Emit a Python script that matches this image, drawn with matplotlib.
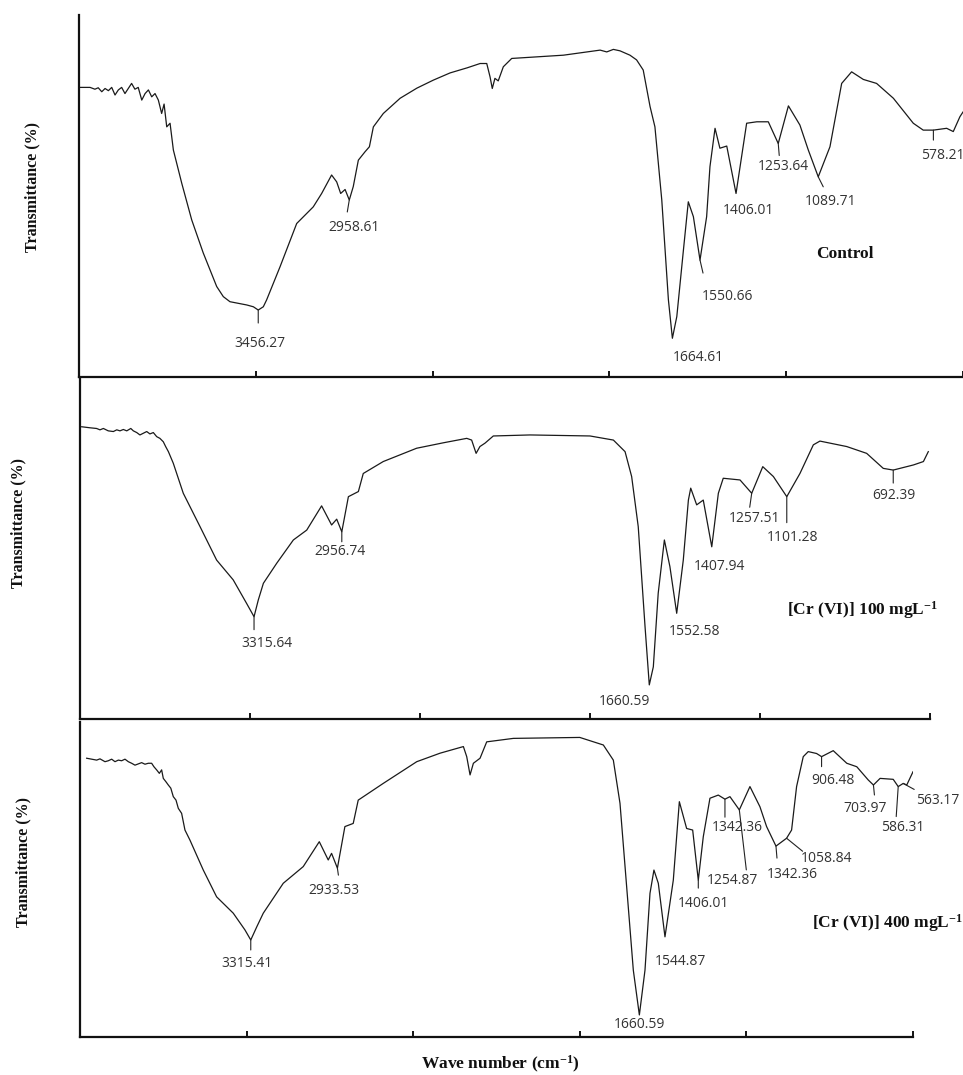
import matplotlib
matplotlib.use("Agg")
import matplotlib.pyplot as plt

plt.rcParams['mathtext.fontset'] = 'custom'
plt.rcParams['mathtext.rm'] = 'Liberation Serif:bold'
plt.rcParams['mathtext.bf'] = 'Liberation Serif:bold'
plt.rcParams['mathtext.default'] = 'rm'

# spectra (wave number, transmittance %)
wn_control = [4400, 4395, 4350, 4328, 4313, 4297, 4282, 4267, 4252, 4237, 4222, 4207, 4192, 4177,
              4162, 4147, 4132, 4116, 4101, 4086, 4071, 4056, 4041, 4026, 4015, 4003, 3988, 3973,
              3935, 3890, 3838, 3777, 3747, 3717, 3641, 3611, 3589, 3566, 3551, 3490, 3415, 3340,
              3302, 3257, 3234, 3216, 3196, 3177, 3159, 3136, 3106, 3086, 3068, 3023, 2947, 2871,
              2797, 2721, 2644, 2585, 2555, 2540, 2530, 2518, 2503, 2480, 2442, 2208, 2042, 2012,
              1982, 1952, 1907, 1877, 1847, 1816, 1794, 1763, 1733, 1715, 1695, 1665, 1643, 1620,
              1590, 1560, 1545, 1522, 1500, 1469, 1427, 1379, 1333, 1281, 1236, 1190, 1138, 1100,
              1055, 1002, 949, 904, 851, 791, 715, 625, 580, 534, 474, 444, 414, 400]
t_control = [80.0, 80.0, 80.0, 79.5, 79.9, 78.8, 79.7, 79.1, 80.0, 77.9, 79.3, 80.0, 78.3, 79.7,
             81.1, 79.5, 80.0, 76.5, 78.3, 79.3, 77.4, 78.3, 76.5, 72.8, 75.4, 69.1, 70.1, 62.7,
             53.5, 43.4, 34.3, 25.0, 22.2, 20.8, 19.9, 19.4, 18.5, 19.4, 21.3, 30.5, 42.4, 47.0,
             50.7, 55.8, 53.9, 50.7, 51.8, 48.9, 52.6, 59.9, 62.2, 63.6, 69.1, 72.8, 77.0, 79.8,
             82.0, 84.0, 85.4, 86.6, 86.6, 82.9, 79.7, 82.5, 81.8, 85.7, 88.0, 88.9, 90.3, 89.8,
             90.5, 90.1, 88.9, 87.6, 84.8, 74.7, 69.1, 48.9, 21.3, 10.7, 16.7, 35.1, 48.4, 44.3,
             32.3, 44.3, 58.1, 68.7, 63.2, 63.8, 50.7, 70.1, 70.5, 70.5, 64.5, 74.9, 69.6, 62.7,
             55.3, 63.6, 81.1, 84.3, 82.2, 81.1, 77.0, 70.1, 68.2, 68.2, 68.7, 67.8, 71.9, 73.2]

wn_cr100 = [4392, 4353, 4322, 4306, 4290, 4267, 4243, 4227, 4212, 4196, 4180, 4161, 4149, 4133,
            4118, 4102, 4086, 4071, 4055, 4039, 4024, 4008, 3997, 3984, 3961, 3914, 3835, 3757,
            3679, 3616, 3581, 3561, 3537, 3474, 3396, 3333, 3263, 3216, 3192, 3168, 3137, 3090,
            3067, 2973, 2816, 2690, 2580, 2557, 2536, 2518, 2494, 2455, 2282, 2000, 1890, 1835,
            1804, 1773, 1741, 1721, 1702, 1679, 1650, 1624, 1592, 1561, 1537, 1526, 1498, 1467,
            1427, 1396, 1373, 1294, 1239, 1187, 1137, 1074, 1012, 949, 918, 792, 698, 620, 573,
            478, 431, 408]
t_cr100 = [85.7, 85.4, 85.2, 84.8, 85.2, 84.5, 84.3, 84.8, 84.5, 84.9, 84.5, 85.2, 84.5, 84.0,
           83.3, 83.8, 84.3, 83.6, 84.0, 82.8, 82.3, 81.3, 79.9, 78.4, 75.0, 66.2, 56.4, 46.6,
           40.8, 33.9, 30.0, 34.9, 39.8, 45.7, 52.5, 55.4, 62.5, 56.9, 58.6, 54.9, 65.2, 66.7,
           72.0, 75.5, 79.4, 81.0, 82.3, 81.8, 77.9, 79.9, 80.9, 83.0, 83.3, 83.0, 81.8, 78.4,
           71.1, 56.4, 27.1, 10.0, 15.3, 36.9, 52.5, 44.7, 31.0, 46.6, 64.2, 67.7, 62.8, 64.2,
           50.5, 66.2, 70.6, 70.1, 66.2, 74.0, 71.1, 65.2, 72.0, 80.4, 81.5, 79.9, 77.9, 73.5,
           73.0, 74.5, 75.5, 78.4]

wn_cr400 = [4368, 4344, 4320, 4304, 4280, 4264, 4248, 4232, 4216, 4200, 4184, 4168, 4152, 4136,
            4120, 4104, 4088, 4072, 4056, 4045, 4032, 4019, 4008, 4000, 3987, 3976, 3964, 3952,
            3939, 3928, 3912, 3896, 3872, 3808, 3744, 3664, 3608, 3580, 3551, 3520, 3424, 3328,
            3251, 3208, 3192, 3164, 3128, 3088, 3064, 2944, 2783, 2671, 2559, 2543, 2527, 2511,
            2479, 2447, 2319, 2000, 1887, 1839, 1807, 1775, 1743, 1714, 1687, 1663, 1644, 1623,
            1591, 1551, 1522, 1487, 1458, 1431, 1407, 1375, 1335, 1303, 1279, 1234, 1183, 1135,
            1103, 1058, 1007, 983, 959, 927, 903, 863, 839, 783, 718, 670, 615, 590, 558, 495,
            471, 447, 430, 400]
t_cr400 = [88.5, 88.2, 87.9, 88.3, 87.4, 87.7, 88.2, 87.4, 87.9, 87.7, 88.2, 87.4, 86.9, 86.3,
           86.7, 87.1, 86.6, 86.9, 86.9, 85.8, 84.8, 83.7, 84.8, 82.1, 81.0, 80.0, 79.0, 76.3,
           75.2, 72.6, 71.0, 65.7, 62.5, 53.0, 44.5, 39.3, 34.0, 30.8, 35.0, 39.3, 48.8, 54.1,
           62.0, 56.2, 58.3, 53.6, 66.8, 67.8, 75.2, 80.5, 87.4, 90.1, 92.2, 89.0, 83.2, 86.9,
           88.5, 93.7, 94.8, 95.1, 92.7, 87.9, 74.2, 47.7, 21.2, 7.0, 21.2, 45.6, 53.0, 48.8,
           31.8, 49.8, 74.7, 66.2, 65.7, 49.8, 63.6, 75.8, 76.8, 75.5, 76.3, 72.1, 79.5, 73.1,
           66.8, 60.6, 63.1, 65.7, 79.5, 89.0, 90.6, 90.0, 89.0, 90.9, 86.9, 85.8, 81.6, 80.0,
           82.1, 81.8, 79.5, 80.5, 80.0, 84.2]

# labelled bands
peaks_control_x = [3589, 3177, 1715, 1590, 1427, 1236, 1055, 534]
peaks_control_y = [18.5, 48.9, 10.7, 32.3, 50.7, 64.5, 55.3, 68.2]
labels_control = ['3456.27', '2958.61', '1664.61', '1550.66', '1406.01', '1253.64', '1089.71', '578.21']

peaks_cr100_x = [3581, 3168, 1721, 1592, 1427, 1239, 1074, 573]
peaks_cr100_y = [30.0, 54.9, 10.0, 31.0, 50.5, 66.2, 65.2, 73.0]
labels_cr100 = ['3315.64', '2956.74', '1660.59', '1552.58', '1407.94', '1257.51', '1101.28', '692.39']

peaks_cr400_x = [3580, 3164, 1714, 1591, 1431, 1303, 1234, 1058, 1007, 839, 590, 471, 447]
peaks_cr400_y = [30.8, 53.6, 7.0, 31.8, 49.8, 75.5, 72.1, 60.6, 63.1, 89.0, 80.0, 79.5, 80.5]
labels_cr400 = ['3315.41', '2933.53', '1660.59', '1544.87', '1406.01', '1342.36', '1254.87',
                '1342.36', '1058.84', '906.48', '703.97', '586.31', '563.17']

names = ['Control', '[Cr (VI)] 100 mgL$^{-1}$', '[Cr (VI)] 400 mgL$^{-1}$']
ticks = [3600, 2800, 2000, 1200, 400]

# layout (pixel offsets of leader line end and label centre)
lines_control = [(0, -13), (-2, -12), None, (3, -13), None, (1, -12), (5, -10), (0, -10)]
text_control = [(2, -33), (5, -28), (26, -19), (27, -36), (12, -17), (5, -23), (12, -25), (9, -25)]
lines_cr100 = [(0, -13), (0, -10), None, None, None, (-2, -14), (0, -26), (0, -13)]
text_cr100 = [(13, -27), (-2, -20), (-25, -17), (18, -18), (8, -20), (3, -25), (6, -41), (1, -25)]
lines_cr400 = [(0, -10), (1, -7), None, None, (0, -8), (0, -18), (7, -60), (1, -12), (16, -13),
               (0, -10), (1, -10), (-2, -30), (11, -6)]
text_cr400 = [(-4, -24), (-3, -22), (0, -10), (15, -25), (5, -23), (12, -28), (-7, -71), (16, -28),
              (40, -20), (11, -24), (-8, -24), (5, -41), (35, -17)]

W, H = 963, 1075
fig = plt.figure(figsize=(W / 100, H / 100), dpi=100)
fig.patch.set_facecolor('white')

# left, bottom, right, top in pixels
boxes = [(79, 377, 963, 15), (80, 719, 930, 378), (80, 1037, 913, 722)]
name_pos = [(0.866, 0.340), (0.921, 0.320), (0.970, 0.362)]
ylab_pos = [(32, 187), (18, 523), (23, 862)]

panels = [
    (wn_control, t_control, peaks_control_x, peaks_control_y, labels_control, lines_control, text_control),
    (wn_cr100, t_cr100, peaks_cr100_x, peaks_cr100_y, labels_cr100, lines_cr100, text_cr100),
    (wn_cr400, t_cr400, peaks_cr400_x, peaks_cr400_y, labels_cr400, lines_cr400, text_cr400),
]

num_font = dict(family='Open Sans', fontsize=10, color='#333333')
serif_bold = dict(family='Liberation Serif', fontweight='bold', color='#111111')

for i, (wn, t, px, py, labs, lns, txt) in enumerate(panels):
    l, b, r, tp = boxes[i]
    ax = fig.add_axes([l / W, 1 - b / H, (r - l) / W, (b - tp) / H])
    ax.plot(wn, t, color='#1a1a1a', lw=0.9)
    ax.set_xlim(4400, 400)
    ax.set_ylim(0, 100)
    ax.set_xticks(ticks)
    ax.set_yticks([])
    ax.tick_params(axis='x', direction='in', length=4, width=1.3, labelbottom=False)
    for s in ['top', 'right']:
        ax.spines[s].set_visible(False)
    for s in ['left', 'bottom']:
        ax.spines[s].set_linewidth(1.6)
        ax.spines[s].set_color('#111111')
    ax.patch.set_alpha(0)

    for x, y, lab, ln, tx in zip(px, py, labs, lns, txt):
        if ln is not None:
            ax.annotate('', xy=(x, y), xytext=ln, textcoords='offset pixels',
                        arrowprops=dict(arrowstyle='-', lw=0.8, color='#222222',
                                        shrinkA=0, shrinkB=0))
        ax.annotate(lab, xy=(x, y), xytext=tx, textcoords='offset pixels',
                    ha='center', va='center', **num_font)

    ax.text(name_pos[i][0], name_pos[i][1], names[i], transform=ax.transAxes,
            ha='center', va='center', fontsize=12.5, **serif_bold)
    fig.text(ylab_pos[i][0] / W, 1 - ylab_pos[i][1] / H, 'Transmittance (%)', rotation=90,
             ha='center', va='center', fontsize=11.5, **serif_bold)

fig.text(500 / W, 1 - 1064 / H, 'Wave number (cm$^{-1}$)', ha='center', va='center',
         fontsize=12.5, **serif_bold)

plt.savefig('out.png', dpi=100)
